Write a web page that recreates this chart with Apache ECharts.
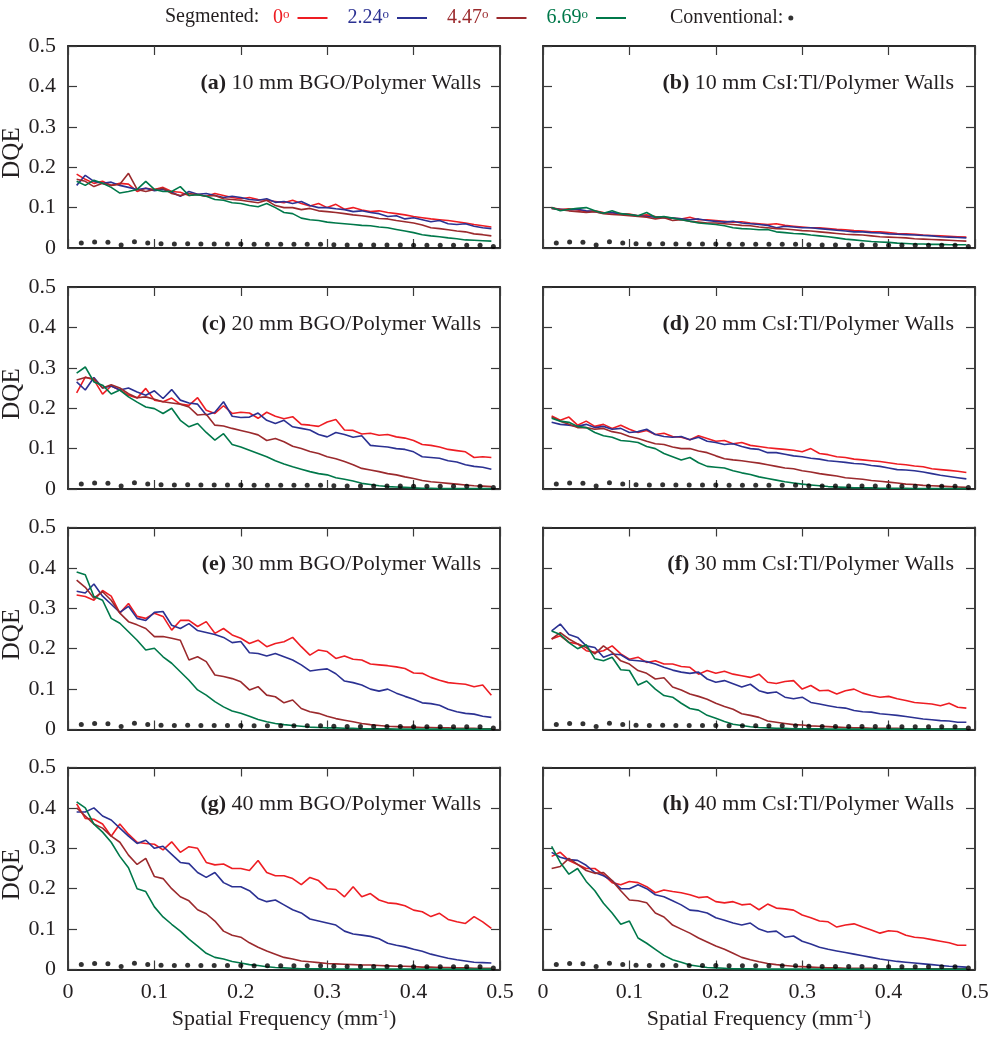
<!DOCTYPE html>
<html><head><meta charset="utf-8">
<script src="https://cdn.jsdelivr.net/npm/echarts/dist/echarts.min.js"></script>
<style>html,body{margin:0;padding:0;background:#fff}#c{width:996px;height:1050px}</style>
</head><body><div id="c"></div>
<script>
// Spatial frequency grid for segmented-detector curves (mm^-1)
const freq = [0.01,0.02,0.03,0.04,0.05,0.06,0.07,0.08,0.09,0.10,0.11,0.12,0.13,0.14,0.15,0.16,0.17,0.18,0.19,0.20,0.21,0.22,0.23,0.24,0.25,0.26,0.27,0.28,0.29,0.30,0.31,0.32,0.33,0.34,0.35,0.36,0.37,0.38,0.39,0.40,0.41,0.42,0.43,0.44,0.45,0.46,0.47,0.48,0.49];
// Conventional detector
const convFreq = [0.0154,0.0308,0.0462,0.0615,0.0769,0.0923,0.1077,0.1231,0.1385,0.1538,0.1692,0.1846,0.2,0.2154,0.2308,0.2462,0.2615,0.2769,0.2923,0.3077,0.3231,0.3385,0.3538,0.3692,0.3846,0.4,0.4154,0.4308,0.4462,0.4615,0.4769,0.4923];
const convDqe = [0.0123,0.0148,0.014,0.0074,0.0156,0.0123,0.0107,0.0099,0.0107,0.0099,0.0099,0.0099,0.0099,0.009,0.009,0.009,0.009,0.009,0.009,0.0082,0.0074,0.0074,0.0074,0.0074,0.0074,0.0066,0.0066,0.0066,0.0066,0.0066,0.0066,0.004];

const angleNames = ['0°','2.24°','4.47°','6.69°'];
const xTicks = [0,0.1,0.2,0.3,0.4,0.5];
const yTicks = [0,0.1,0.2,0.3,0.4,0.5];

// (a) 10 mm BGO
const a_0 = [0.183,0.17,0.16,0.165,0.155,0.16,0.158,0.14,0.148,0.145,0.15,0.14,0.138,0.13,0.133,0.128,0.135,0.13,0.125,0.122,0.125,0.12,0.118,0.115,0.112,0.118,0.11,0.104,0.11,0.1,0.108,0.096,0.1,0.094,0.09,0.092,0.088,0.085,0.082,0.078,0.075,0.072,0.07,0.068,0.065,0.062,0.058,0.055,0.052];
const a_2 = [0.155,0.18,0.165,0.16,0.163,0.155,0.15,0.145,0.148,0.142,0.145,0.138,0.128,0.14,0.133,0.135,0.13,0.125,0.128,0.125,0.12,0.118,0.122,0.113,0.115,0.11,0.115,0.105,0.1,0.1,0.097,0.095,0.09,0.092,0.088,0.085,0.078,0.08,0.072,0.075,0.07,0.065,0.068,0.06,0.058,0.06,0.054,0.05,0.048];
const a_4 = [0.17,0.165,0.152,0.16,0.155,0.158,0.185,0.145,0.14,0.145,0.148,0.135,0.13,0.135,0.132,0.128,0.13,0.122,0.12,0.118,0.115,0.112,0.118,0.105,0.1,0.1,0.095,0.098,0.092,0.09,0.088,0.085,0.082,0.08,0.077,0.073,0.072,0.068,0.065,0.062,0.057,0.05,0.048,0.045,0.042,0.04,0.035,0.033,0.03];
const a_6 = [0.165,0.155,0.168,0.16,0.15,0.136,0.14,0.145,0.165,0.145,0.14,0.14,0.152,0.13,0.132,0.128,0.12,0.118,0.112,0.11,0.105,0.102,0.11,0.1,0.088,0.085,0.074,0.07,0.068,0.064,0.062,0.06,0.058,0.056,0.055,0.052,0.05,0.046,0.042,0.038,0.033,0.03,0.028,0.025,0.023,0.02,0.019,0.018,0.017];
// (b) 10 mm CsI:Tl
const b_0 = [0.1,0.095,0.097,0.094,0.09,0.092,0.088,0.087,0.085,0.084,0.08,0.082,0.078,0.076,0.074,0.072,0.076,0.07,0.07,0.068,0.066,0.064,0.065,0.062,0.06,0.058,0.06,0.056,0.054,0.052,0.05,0.05,0.048,0.046,0.045,0.043,0.042,0.04,0.04,0.038,0.036,0.035,0.034,0.032,0.031,0.03,0.029,0.028,0.027];
const b_2 = [0.098,0.096,0.094,0.096,0.092,0.09,0.086,0.088,0.084,0.082,0.08,0.078,0.076,0.075,0.074,0.072,0.07,0.072,0.068,0.066,0.064,0.066,0.062,0.06,0.058,0.056,0.05,0.054,0.052,0.05,0.05,0.048,0.046,0.044,0.042,0.04,0.04,0.038,0.037,0.035,0.034,0.033,0.032,0.031,0.03,0.028,0.027,0.026,0.025];
const b_4 = [0.098,0.095,0.092,0.09,0.088,0.09,0.085,0.083,0.082,0.08,0.078,0.076,0.072,0.075,0.068,0.07,0.066,0.064,0.062,0.062,0.06,0.058,0.056,0.055,0.052,0.05,0.048,0.047,0.045,0.043,0.042,0.04,0.038,0.036,0.034,0.033,0.032,0.03,0.028,0.027,0.026,0.025,0.023,0.022,0.021,0.02,0.019,0.018,0.017];
const b_6 = [0.1,0.092,0.096,0.098,0.1,0.092,0.086,0.092,0.085,0.083,0.08,0.088,0.076,0.078,0.074,0.07,0.066,0.062,0.06,0.058,0.055,0.05,0.048,0.047,0.045,0.046,0.04,0.038,0.036,0.035,0.032,0.03,0.028,0.025,0.022,0.02,0.018,0.016,0.015,0.014,0.012,0.011,0.01,0.01,0.009,0.009,0.008,0.008,0.008];
// (c) 20 mm BGO
const c_0 = [0.238,0.277,0.27,0.235,0.255,0.245,0.232,0.225,0.249,0.22,0.216,0.225,0.21,0.207,0.226,0.195,0.187,0.206,0.187,0.19,0.188,0.175,0.19,0.18,0.174,0.179,0.16,0.158,0.155,0.166,0.172,0.146,0.145,0.136,0.138,0.133,0.135,0.129,0.126,0.12,0.11,0.108,0.104,0.098,0.095,0.092,0.078,0.08,0.078];
const c_2 = [0.265,0.245,0.276,0.25,0.255,0.245,0.25,0.24,0.232,0.243,0.224,0.246,0.22,0.213,0.21,0.183,0.19,0.216,0.18,0.177,0.178,0.188,0.17,0.162,0.17,0.154,0.15,0.146,0.135,0.129,0.14,0.135,0.128,0.132,0.108,0.106,0.104,0.1,0.098,0.092,0.08,0.078,0.076,0.07,0.067,0.06,0.056,0.054,0.049];
const c_4 = [0.27,0.276,0.273,0.25,0.258,0.25,0.236,0.226,0.228,0.222,0.216,0.213,0.21,0.203,0.183,0.185,0.158,0.156,0.15,0.145,0.14,0.134,0.12,0.125,0.117,0.106,0.1,0.093,0.088,0.08,0.075,0.068,0.06,0.051,0.047,0.043,0.038,0.035,0.03,0.026,0.021,0.018,0.016,0.014,0.012,0.01,0.008,0.007,0.006];
const c_6 = [0.287,0.302,0.265,0.257,0.235,0.245,0.228,0.215,0.203,0.199,0.187,0.2,0.17,0.154,0.162,0.14,0.121,0.137,0.11,0.104,0.096,0.088,0.08,0.07,0.062,0.055,0.049,0.043,0.038,0.035,0.028,0.024,0.02,0.014,0.011,0.008,0.006,0.005,0.004,0.003,0.002,0.002,0.001,0.001,0.001,0.001,0.001,0.001,0.001];
// (d) 20 mm CsI:Tl
const d_0 = [0.181,0.17,0.178,0.158,0.168,0.155,0.16,0.15,0.158,0.148,0.14,0.145,0.135,0.138,0.13,0.128,0.122,0.132,0.125,0.118,0.12,0.112,0.115,0.108,0.105,0.102,0.1,0.098,0.096,0.092,0.1,0.088,0.085,0.08,0.078,0.074,0.072,0.07,0.068,0.065,0.062,0.06,0.057,0.055,0.05,0.048,0.046,0.044,0.041];
const d_2 = [0.165,0.16,0.158,0.155,0.16,0.152,0.155,0.148,0.15,0.14,0.142,0.148,0.135,0.13,0.128,0.13,0.122,0.128,0.118,0.115,0.11,0.112,0.105,0.1,0.098,0.09,0.09,0.086,0.082,0.08,0.076,0.074,0.07,0.068,0.066,0.063,0.062,0.058,0.056,0.052,0.048,0.047,0.045,0.042,0.038,0.034,0.031,0.028,0.025];
const d_4 = [0.178,0.168,0.16,0.152,0.152,0.148,0.15,0.142,0.138,0.13,0.125,0.118,0.112,0.11,0.104,0.1,0.1,0.094,0.09,0.082,0.075,0.072,0.07,0.067,0.064,0.06,0.056,0.052,0.05,0.045,0.042,0.038,0.035,0.032,0.028,0.026,0.024,0.021,0.019,0.017,0.015,0.012,0.011,0.009,0.008,0.007,0.006,0.005,0.004];
const d_6 = [0.175,0.168,0.165,0.155,0.152,0.14,0.132,0.128,0.12,0.118,0.115,0.105,0.1,0.088,0.08,0.072,0.078,0.065,0.056,0.054,0.052,0.045,0.04,0.036,0.03,0.026,0.022,0.018,0.015,0.012,0.01,0.008,0.006,0.005,0.004,0.003,0.003,0.003,0.002,0.002,0.002,0.002,0.001,0.001,0.001,0.001,0.001,0.001,0.001];
// (e) 30 mm BGO
const e_0 = [0.333,0.329,0.32,0.344,0.33,0.288,0.312,0.28,0.275,0.288,0.28,0.246,0.27,0.27,0.255,0.267,0.238,0.25,0.234,0.226,0.213,0.221,0.205,0.213,0.217,0.228,0.205,0.184,0.197,0.193,0.176,0.182,0.174,0.172,0.162,0.16,0.158,0.155,0.151,0.14,0.139,0.129,0.122,0.116,0.114,0.112,0.106,0.11,0.085];
const e_2 = [0.342,0.338,0.36,0.33,0.31,0.29,0.305,0.275,0.27,0.29,0.292,0.258,0.25,0.262,0.245,0.24,0.235,0.228,0.215,0.218,0.19,0.188,0.182,0.188,0.18,0.172,0.16,0.145,0.148,0.15,0.138,0.12,0.116,0.11,0.1,0.095,0.1,0.09,0.082,0.075,0.066,0.064,0.06,0.05,0.044,0.04,0.038,0.033,0.03];
const e_4 = [0.37,0.352,0.325,0.341,0.32,0.288,0.267,0.259,0.25,0.23,0.23,0.226,0.221,0.172,0.18,0.168,0.135,0.131,0.126,0.118,0.098,0.106,0.085,0.081,0.066,0.073,0.052,0.044,0.04,0.033,0.027,0.023,0.019,0.015,0.012,0.01,0.008,0.007,0.006,0.006,0.005,0.005,0.004,0.004,0.003,0.003,0.003,0.002,0.002];
const e_6 = [0.39,0.383,0.329,0.32,0.275,0.263,0.242,0.221,0.197,0.201,0.18,0.164,0.143,0.122,0.098,0.085,0.069,0.056,0.046,0.04,0.033,0.025,0.019,0.015,0.012,0.01,0.008,0.006,0.005,0.004,0.004,0.003,0.003,0.002,0.002,0.002,0.002,0.001,0.001,0.001,0.001,0.001,0.001,0.001,0.001,0.001,0.001,0.001,0.001];
// (f) 30 mm CsI:Tl
const f_0 = [0.224,0.232,0.216,0.212,0.195,0.191,0.195,0.207,0.187,0.174,0.179,0.166,0.17,0.162,0.162,0.156,0.154,0.137,0.146,0.139,0.144,0.137,0.133,0.129,0.137,0.117,0.114,0.119,0.121,0.1,0.109,0.096,0.097,0.088,0.096,0.1,0.09,0.084,0.08,0.082,0.076,0.072,0.067,0.065,0.063,0.059,0.065,0.055,0.053];
const f_2 = [0.244,0.261,0.235,0.228,0.207,0.203,0.179,0.187,0.185,0.172,0.17,0.168,0.162,0.154,0.147,0.142,0.139,0.142,0.125,0.117,0.121,0.113,0.105,0.112,0.096,0.09,0.093,0.08,0.076,0.08,0.067,0.063,0.059,0.055,0.053,0.047,0.044,0.043,0.039,0.037,0.035,0.032,0.029,0.026,0.024,0.022,0.021,0.018,0.018];
const f_4 = [0.224,0.24,0.224,0.212,0.203,0.187,0.207,0.191,0.17,0.162,0.146,0.139,0.125,0.128,0.105,0.098,0.088,0.082,0.075,0.065,0.057,0.05,0.039,0.035,0.03,0.021,0.018,0.015,0.012,0.011,0.009,0.008,0.007,0.006,0.005,0.004,0.004,0.003,0.003,0.003,0.003,0.002,0.002,0.002,0.002,0.002,0.002,0.002,0.002];
const f_6 = [0.244,0.235,0.215,0.2,0.21,0.175,0.17,0.179,0.148,0.146,0.11,0.12,0.1,0.084,0.08,0.065,0.052,0.048,0.035,0.028,0.02,0.013,0.01,0.007,0.005,0.004,0.003,0.003,0.002,0.002,0.002,0.002,0.001,0.001,0.001,0.001,0.001,0.001,0.001,0.001,0.001,0.001,0.001,0.001,0.001,0.001,0.001,0.001,0.001];
// (g) 40 mm BGO
const g_0 = [0.41,0.374,0.372,0.36,0.33,0.36,0.335,0.315,0.312,0.31,0.296,0.316,0.29,0.304,0.3,0.265,0.259,0.261,0.25,0.25,0.245,0.27,0.24,0.232,0.232,0.225,0.21,0.228,0.22,0.2,0.198,0.18,0.205,0.18,0.188,0.172,0.165,0.163,0.158,0.147,0.143,0.131,0.139,0.124,0.118,0.114,0.131,0.118,0.102];
const g_2 = [0.39,0.39,0.4,0.38,0.37,0.35,0.33,0.312,0.32,0.3,0.305,0.285,0.265,0.262,0.24,0.228,0.24,0.215,0.205,0.205,0.195,0.176,0.168,0.172,0.16,0.148,0.14,0.125,0.12,0.115,0.11,0.095,0.088,0.085,0.082,0.076,0.065,0.06,0.056,0.05,0.045,0.038,0.033,0.028,0.024,0.021,0.018,0.017,0.016];
const g_4 = [0.4,0.38,0.36,0.35,0.33,0.315,0.283,0.26,0.275,0.23,0.225,0.2,0.18,0.17,0.148,0.138,0.12,0.095,0.085,0.08,0.066,0.055,0.046,0.038,0.03,0.026,0.021,0.019,0.017,0.015,0.014,0.013,0.012,0.011,0.011,0.01,0.009,0.008,0.008,0.007,0.006,0.006,0.005,0.005,0.004,0.004,0.003,0.003,0.003];
const g_6 = [0.415,0.4,0.36,0.34,0.315,0.28,0.252,0.2,0.193,0.155,0.13,0.112,0.095,0.075,0.058,0.04,0.03,0.026,0.02,0.016,0.012,0.01,0.007,0.005,0.004,0.003,0.002,0.002,0.002,0.002,0.001,0.001,0.001,0.001,0.001,0.001,0.001,0.001,0.001,0.001,0.001,0.001,0.001,0.001,0.001,0.001,0.001,0.001,0.001];
// (h) 40 mm CsI:Tl
const h_0 = [0.28,0.29,0.27,0.26,0.25,0.25,0.235,0.215,0.21,0.218,0.215,0.205,0.19,0.197,0.193,0.19,0.185,0.178,0.18,0.168,0.165,0.168,0.16,0.162,0.148,0.162,0.152,0.15,0.147,0.135,0.128,0.12,0.118,0.105,0.11,0.113,0.105,0.098,0.09,0.096,0.094,0.085,0.08,0.078,0.074,0.07,0.066,0.06,0.06];
const h_2 = [0.29,0.278,0.272,0.27,0.258,0.24,0.232,0.22,0.2,0.2,0.21,0.2,0.185,0.18,0.17,0.16,0.147,0.145,0.14,0.128,0.122,0.115,0.11,0.115,0.1,0.093,0.095,0.08,0.083,0.07,0.063,0.055,0.05,0.046,0.042,0.038,0.034,0.03,0.026,0.023,0.02,0.018,0.016,0.014,0.012,0.01,0.008,0.007,0.006];
const h_4 = [0.25,0.255,0.275,0.26,0.245,0.238,0.24,0.22,0.195,0.172,0.17,0.165,0.14,0.13,0.11,0.1,0.09,0.078,0.068,0.058,0.05,0.04,0.03,0.024,0.019,0.015,0.012,0.01,0.008,0.007,0.006,0.005,0.004,0.004,0.003,0.003,0.003,0.003,0.002,0.002,0.002,0.002,0.002,0.002,0.002,0.002,0.002,0.002,0.002];
const h_6 = [0.305,0.265,0.236,0.25,0.218,0.195,0.164,0.14,0.112,0.12,0.078,0.065,0.05,0.035,0.024,0.018,0.011,0.008,0.005,0.004,0.003,0.002,0.002,0.002,0.001,0.001,0.001,0.001,0.001,0.001,0.001,0.001,0.001,0.001,0.001,0.001,0.001,0.001,0.001,0.001,0.001,0.001,0.001,0.001,0.001,0.001,0.001,0.001,0.001];

const panelTags = ['a','b','c','d','e','f','g','h'];
const panelTitles = ['10 mm BGO/Polymer Walls','10 mm CsI:Tl/Polymer Walls','20 mm BGO/Polymer Walls','20 mm CsI:Tl/Polymer Walls','30 mm BGO/Polymer Walls','30 mm CsI:Tl/Polymer Walls','40 mm BGO/Polymer Walls','40 mm CsI:Tl/Polymer Walls'];
const panelData = [[a_0,a_2,a_4,a_6],[b_0,b_2,b_4,b_6],[c_0,c_2,c_4,c_6],[d_0,d_2,d_4,d_6],[e_0,e_2,e_4,e_6],[f_0,f_2,f_4,f_6],[g_0,g_2,g_4,g_6],[h_0,h_2,h_4,h_6]];

const COLORS = ['#ee1d23','#2b3192','#9b2a2d','#00784a'];
const FONT = '"Liberation Serif","Times New Roman",serif';
const TXT = '#231f20';
const FRAME = '#2a2a2a';
const FS = 22;
const colLeft = [68, 543], W = 432, rowTop = [46, 287, 527.5, 767.5], H = 202;
const titleRightGap = [14, 16];

const grids = [], xAxes = [], yAxes = [], series = [], titles = [];
const fmt = v => (v === 0 ? '0' : String(+v.toFixed(1)));
for (let i = 0; i < 8; i++) {
  const col = i % 2, row = Math.floor(i / 2);
  grids.push({left: colLeft[col], top: rowTop[row], width: W, height: H, containLabel: false, outerBoundsMode: 'none'});
  const lineSt = {color: FRAME, width: 1.8};
  const tickSt = {color: '#3a3a3a', width: 1.2};
  const baseX = {type: 'value', gridIndex: i, min: xTicks[0], max: xTicks[xTicks.length-1], interval: 0.1,
    splitLine: {show: false}, axisLine: {show: true, onZero: false, lineStyle: lineSt},
    axisTick: {show: true, inside: true, length: 9, lineStyle: tickSt}};
  const baseY = {type: 'value', gridIndex: i, min: yTicks[0], max: yTicks[yTicks.length-1], interval: 0.1,
    splitLine: {show: false}, axisLine: {show: true, onZero: false, lineStyle: lineSt},
    axisTick: {show: true, inside: true, length: 9, lineStyle: tickSt}};
  xAxes.push(Object.assign({}, baseX, {position: 'bottom',
    axisLabel: {show: row === 3, formatter: fmt, fontFamily: FONT, fontSize: FS, color: TXT, margin: 12, showMinLabel: true, showMaxLabel: true},
    name: row === 3 ? 'Spatial Frequency (mm{sup|-1})' : '', nameLocation: 'middle', nameGap: 39,
    nameTextStyle: {fontFamily: FONT, fontSize: FS, color: TXT, rich: {sup: {fontFamily: FONT, fontSize: 13, color: TXT, verticalAlign: 'top', lineHeight: 13}}}}));
  xAxes.push(Object.assign({}, baseX, {position: 'top', axisLabel: {show: false}}));
  yAxes.push(Object.assign({}, baseY, {position: 'left',
    axisLabel: {show: col === 0, formatter: fmt, fontFamily: FONT, fontSize: FS, color: TXT, margin: 12, showMinLabel: true, showMaxLabel: true},
    name: col === 0 ? 'DQE' : '', nameLocation: 'middle', nameGap: 42, nameRotate: 90,
    nameTextStyle: {fontFamily: FONT, fontSize: 25, color: TXT, padding: [0, 12, 0, 0]}}));
  yAxes.push(Object.assign({}, baseY, {position: 'right', axisLabel: {show: false}}));

  const rightEdge = colLeft[col] + W;
  titles.push({text: '{b|(' + panelTags[i] + ')} ' + panelTitles[i], right: 996 - rightEdge + titleRightGap[col], top: rowTop[row] + 21,
    textStyle: {fontFamily: FONT, fontSize: FS, fontWeight: 'normal', color: TXT,
      rich: {b: {fontFamily: FONT, fontSize: FS, fontWeight: 'bold', color: TXT}}}});

  panelData[i].forEach((vals, j) => {
    series.push({type: 'line', name: angleNames[j], xAxisIndex: 2*i, yAxisIndex: 2*i,
      data: freq.map((x, k) => [x, vals[k]]), showSymbol: false, symbol: 'none',
      lineStyle: {width: 1.6, color: COLORS[j]}, itemStyle: {color: COLORS[j]}, z: 2 + j});
  });
  series.push({type: 'scatter', name: 'Conventional:', xAxisIndex: 2*i, yAxisIndex: 2*i,
    data: convFreq.map((x, k) => [x, convDqe[k]]), symbol: 'circle', symbolSize: 5,
    itemStyle: {color: '#000'}, z: 10});
}

const chart = echarts.init(document.getElementById('c'), null, {renderer: 'canvas'});
chart.setOption({
  animation: false,
  backgroundColor: '#fff',
  title: titles,
  grid: grids,
  xAxis: xAxes,
  yAxis: yAxes,
  legend: [
    {data: angleNames.map((n, j) => ({name: n, textStyle: {color: COLORS[j]}})),
     left: 268, top: 3, itemWidth: 30, itemHeight: 2, itemGap: 20, align: 'right', icon: 'rect',
     selectedMode: false,
     formatter: n => n.replace('°', '{s|o}'),
     textStyle: {fontFamily: FONT, fontSize: 20, padding: [0, 3, 0, 0], rich: {s: {fontFamily: FONT, fontSize: 13, verticalAlign: 'top', lineHeight: 13}}}},
    {data: [{name: 'Conventional:', icon: 'circle'}], left: 665, top: 3, itemWidth: 5, itemHeight: 5, align: 'right',
     selectedMode: false,
     textStyle: {fontFamily: FONT, fontSize: 20, color: TXT}}
  ],
  graphic: [{type: 'text', left: 165, top: 7, style: {text: 'Segmented:', font: '20px ' + FONT, fill: TXT}}],
  series: series
});
</script>
</body></html>
